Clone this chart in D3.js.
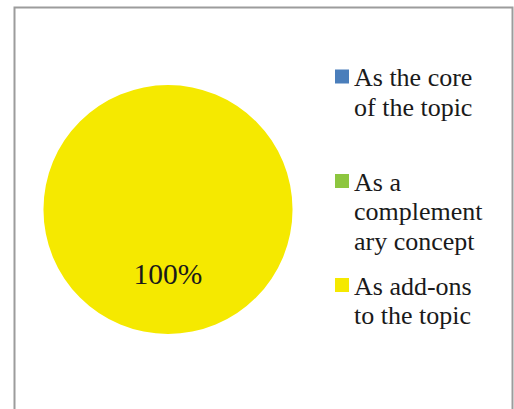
<!DOCTYPE html>
<html>
<head>
<meta charset="utf-8">
<script src="https://cdn.jsdelivr.net/npm/d3@7"></script>
<style>
  html, body { margin: 0; padding: 0; background: #fff; }
  svg { display: block; }
</style>
</head>
<body>
<svg id="chart" width="514" height="409"></svg>
<script>
// Survey answer shares
const categories = ["As the core of the topic", "As a complementary concept", "As add-ons to the topic"];
const values = [0, 0, 100];
const colors = ["#4a7ebb", "#8dc63f", "#f5e900"];
// Legend text broken into the wrapped lines shown
const legendLines = [
  ["As the core", "of the topic"],
  ["As a", "complement", "ary concept"],
  ["As add-ons", "to the topic"]
];

const svg = d3.select("#chart");
const baseSize = 26;

// Layers: frame, pie, then text on top
const frameLayer = svg.append("g");
const cx = 168, cy = 209.5, r = 124.5;
const pieLayer = svg.append("g").attr("transform", `translate(${cx},${cy})`);
const textLayer = svg.append("g");

// Chart frame
frameLayer.append("rect")
  .attr("x", 14.5).attr("y", 7.5)
  .attr("width", 498).attr("height", 420)
  .attr("fill", "#fff")
  .attr("stroke", "#9c9c9c")
  .attr("stroke-width", 2);

const pie = d3.pie().sort(null).value(d => d);
const arcs = pie(values);
const arc = d3.arc().innerRadius(0).outerRadius(r);
const color = d3.scaleOrdinal().domain(d3.range(categories.length)).range(colors);

pieLayer.selectAll("path.slice")
  .data(arcs)
  .join("path")
  .attr("class", "slice")
  .attr("d", arc)
  .attr("fill", (d, i) => color(i));

// Percentage label for non-empty slices (set at the base size, then scaled up)
const total = d3.sum(values);
const labelArc = d3.arc().innerRadius(r * 0.6).outerRadius(r * 0.6);
const pctScale = 29.5 / baseSize;
textLayer.selectAll("text.pct")
  .data(arcs.filter(d => d.value > 0))
  .join("text")
  .attr("class", "pct")
  .attr("transform", d => {
    const p = d.value === total ? [0, 74.5] : labelArc.centroid(d);
    return `translate(${cx + p[0]},${cy + p[1]}) scale(${pctScale})`;
  })
  .attr("text-anchor", "middle")
  .attr("font-family", "Liberation Serif")
  .attr("font-size", baseSize)
  .attr("fill", "#1a1a1a")
  .text(d => Math.round(d.value / total * 100) + "%");

// Legend
const legendTops = [69.5, 174, 278];
const lineH = 29.5;
categories.forEach((c, i) => {
  const item = textLayer.append("g").attr("transform", `translate(335,${legendTops[i]})`);
  item.append("rect")
    .attr("width", 14).attr("height", 14)
    .attr("fill", color(i));
  legendLines[i].forEach((ln, j) => {
    item.append("text")
      .attr("x", 19)
      .attr("y", 16.5 + j * lineH)
      .attr("font-family", "Liberation Serif")
      .attr("font-size", baseSize)
      .attr("fill", "#1a1a1a")
      .text(ln);
  });
});
</script>
</body>
</html>
